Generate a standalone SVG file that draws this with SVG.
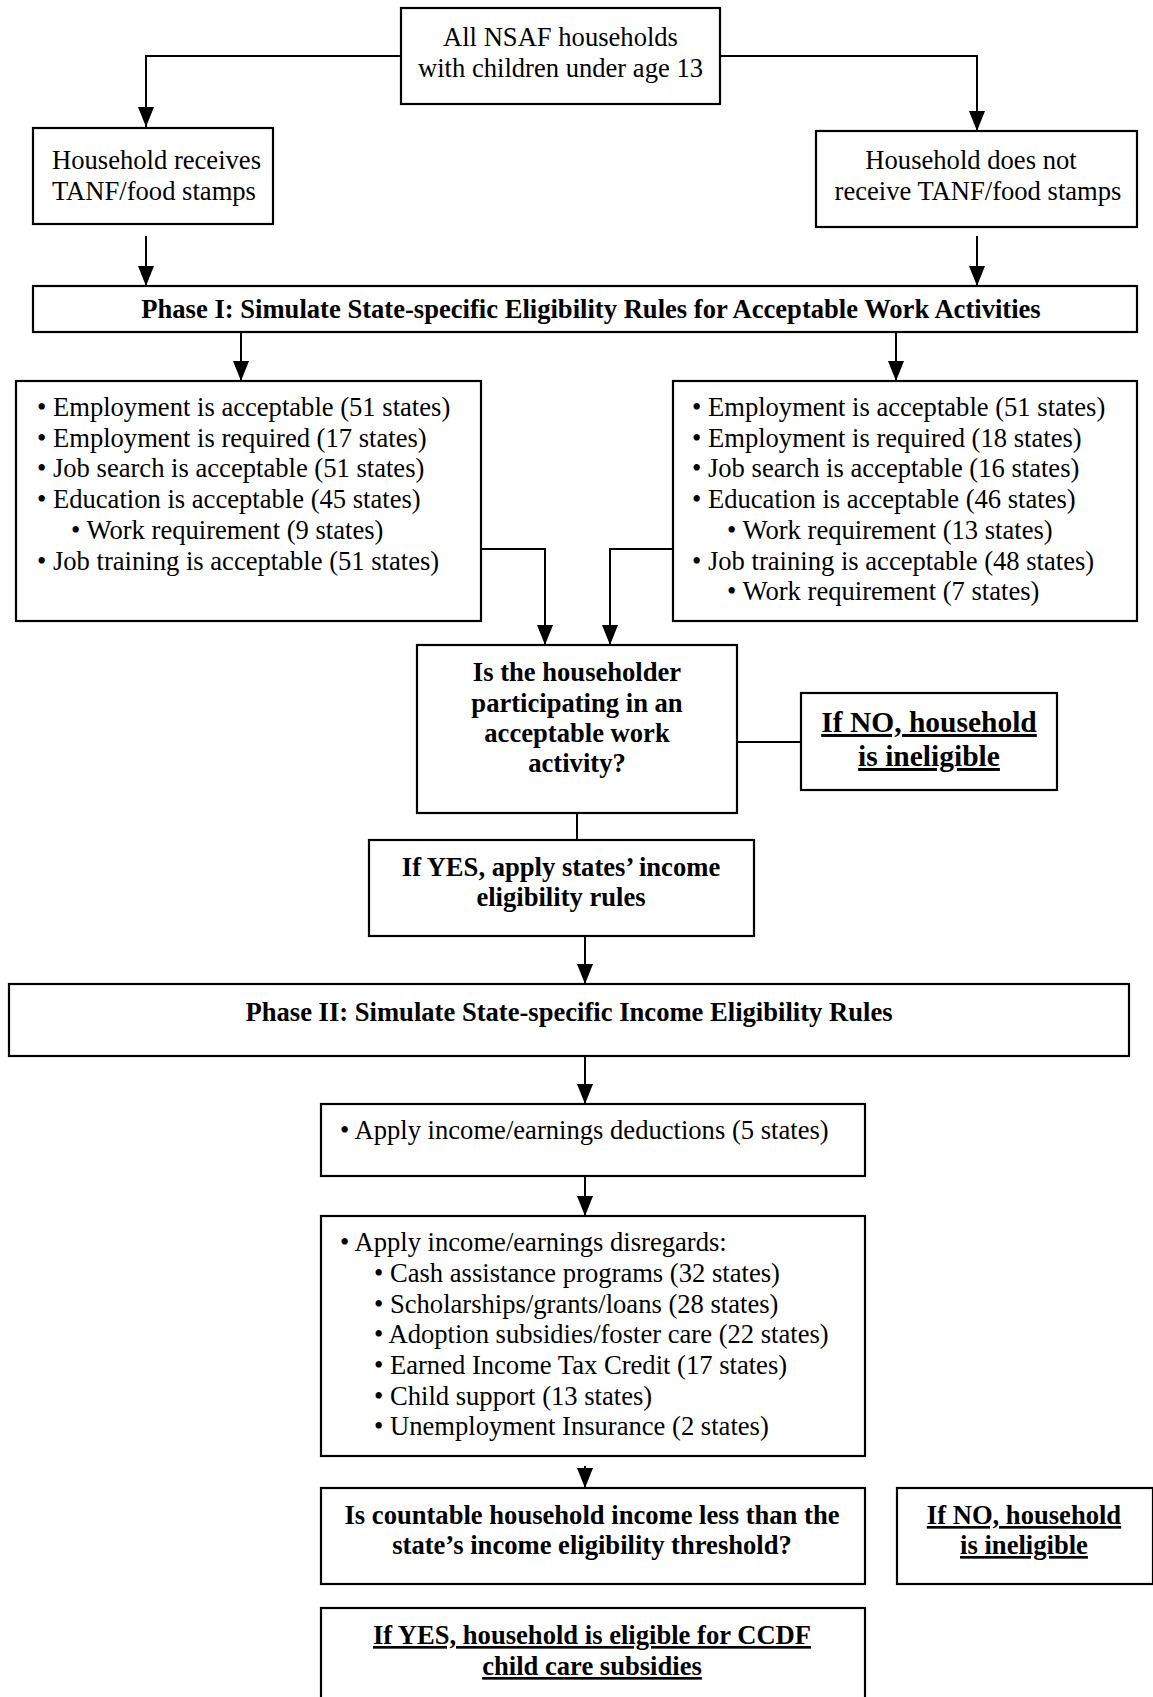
<svg xmlns="http://www.w3.org/2000/svg" width="1153" height="1697" viewBox="0 0 1153 1697">
<style>
.box{fill:#fff;stroke:#000;stroke-width:2.2}
.t{font-family:"Liberation Serif","Times New Roman",serif;font-size:26.6px;fill:#000}
.b{font-family:"Liberation Serif","Times New Roman",serif;font-size:26.6px;font-weight:bold;fill:#000}
.big{font-size:29.5px}
.c{text-anchor:middle}
.u{text-decoration:underline}
.ln{fill:none;stroke:#000;stroke-width:2}
</style>
<defs>
<marker id="ah" viewBox="0 0 20 16" refX="20" refY="8" markerWidth="20" markerHeight="16" markerUnits="userSpaceOnUse" orient="auto">
<path d="M0,0 L20,8 L0,16 z" fill="#000"/>
</marker>
</defs>
<rect width="1153" height="1697" fill="#fff"/>
<g id="connectors">
<path class="ln" d="M401,56 H146 V127" marker-end="url(#ah)"/>
<path class="ln" d="M720,56 H977 V131" marker-end="url(#ah)"/>
<path class="ln" d="M146,236 V286" marker-end="url(#ah)"/>
<path class="ln" d="M977,236 V286" marker-end="url(#ah)"/>
<path class="ln" d="M241,332 V381" marker-end="url(#ah)"/>
<path class="ln" d="M896,332 V381" marker-end="url(#ah)"/>
<path class="ln" d="M481,549 H545 V645" marker-end="url(#ah)"/>
<path class="ln" d="M673,549 H610 V645" marker-end="url(#ah)"/>
<path class="ln" d="M737,742 H801"/>
<path class="ln" d="M577,813 V840"/>
<path class="ln" d="M585,936 V984" marker-end="url(#ah)"/>
<path class="ln" d="M585,1056 V1104" marker-end="url(#ah)"/>
<path class="ln" d="M585,1176 V1216" marker-end="url(#ah)"/>
<path class="ln" d="M585,1466 V1488" marker-end="url(#ah)"/>
</g>
<g id="n-all">
<rect class="box" x="401" y="8" width="319" height="96"/>
<text class="t c" x="560.5" y="46">All NSAF households</text>
<text class="t c" x="560.5" y="77">with children under age 13</text>
</g>
<g id="n-receives">
<rect class="box" x="33" y="128" width="240" height="96"/>
<text class="t" x="52" y="169">Household receives</text>
<text class="t" x="52" y="200">TANF/food stamps</text>
</g>
<g id="n-notreceive">
<rect class="box" x="816" y="131" width="321" height="96"/>
<text class="t c" x="971" y="169">Household does not</text>
<text class="t c" x="978" y="200">receive TANF/food stamps</text>
</g>
<g id="n-phase1">
<rect class="box" x="33" y="286" width="1104" height="46"/>
<text class="b c" x="591" y="318">Phase I: Simulate State-specific Eligibility Rules for Acceptable Work Activities</text>
</g>
<g id="n-left-rules">
<rect class="box" x="16" y="381" width="465" height="240"/>
<text class="t" x="37" y="416">• Employment is acceptable (51 states)</text>
<text class="t" x="37" y="446.5">• Employment is required (17 states)</text>
<text class="t" x="37" y="477">• Job search is acceptable (51 states)</text>
<text class="t" x="37" y="508">• Education is acceptable (45 states)</text>
<text class="t" x="71" y="538.5">• Work requirement (9 states)</text>
<text class="t" x="37" y="569.5">• Job training is acceptable (51 states)</text>
</g>
<g id="n-right-rules">
<rect class="box" x="673" y="381" width="464" height="240"/>
<text class="t" x="692" y="416">• Employment is acceptable (51 states)</text>
<text class="t" x="692" y="446.5">• Employment is required (18 states)</text>
<text class="t" x="692" y="477">• Job search is acceptable (16 states)</text>
<text class="t" x="692" y="508">• Education is acceptable (46 states)</text>
<text class="t" x="727" y="538.5">• Work requirement (13 states)</text>
<text class="t" x="692" y="569.5">• Job training is acceptable (48 states)</text>
<text class="t" x="727" y="600">• Work requirement (7 states)</text>
</g>
<g id="n-decision1">
<rect class="box" x="417" y="645" width="320" height="168"/>
<text class="b c" x="577" y="681">Is the householder</text>
<text class="b c" x="577" y="712">participating in an</text>
<text class="b c" x="577" y="742">acceptable work</text>
<text class="b c" x="577" y="772">activity?</text>
</g>
<g id="n-no1">
<rect class="box" x="801" y="693" width="256" height="97"/>
<text class="b big c u" x="929" y="732">If NO, household</text>
<text class="b big c u" x="929" y="766">is ineligible</text>
</g>
<g id="n-yes1">
<rect class="box" x="369" y="840" width="385" height="96"/>
<text class="b c" x="561" y="876">If YES, apply states’ income</text>
<text class="b c" x="561" y="906">eligibility rules</text>
</g>
<g id="n-phase2">
<rect class="box" x="9" y="984" width="1120" height="72"/>
<text class="b c" x="569" y="1021">Phase II: Simulate State-specific Income Eligibility Rules</text>
</g>
<g id="n-deductions">
<rect class="box" x="321" y="1104" width="544" height="72"/>
<text class="t" x="340" y="1139">• Apply income/earnings deductions (5 states)</text>
</g>
<g id="n-disregards">
<rect class="box" x="321" y="1216" width="544" height="240"/>
<text class="t" x="340" y="1251">• Apply income/earnings disregards:</text>
<text class="t" x="374" y="1281.5">• Cash assistance programs (32 states)</text>
<text class="t" x="374" y="1312.5">• Scholarships/grants/loans (28 states)</text>
<text class="t" x="374" y="1343">• Adoption subsidies/foster care (22 states)</text>
<text class="t" x="374" y="1373.5">• Earned Income Tax Credit (17 states)</text>
<text class="t" x="374" y="1404.5">• Child support (13 states)</text>
<text class="t" x="374" y="1435">• Unemployment Insurance (2 states)</text>
</g>
<g id="n-income">
<rect class="box" x="321" y="1488" width="544" height="96"/>
<text class="b c" x="592" y="1524">Is countable household income less than the</text>
<text class="b c" x="592" y="1554">state’s income eligibility threshold?</text>
</g>
<g id="n-no2">
<rect class="box" x="897" y="1488" width="256" height="96"/>
<text class="b c u" x="1024" y="1524">If NO, household</text>
<text class="b c u" x="1024" y="1554">is ineligible</text>
</g>
<g id="n-eligible">
<rect class="box" x="321" y="1608" width="544" height="100"/>
<text class="b c u" x="592" y="1644">If YES, household is eligible for CCDF</text>
<text class="b c u" x="592" y="1675">child care subsidies</text>
</g>
</svg>
